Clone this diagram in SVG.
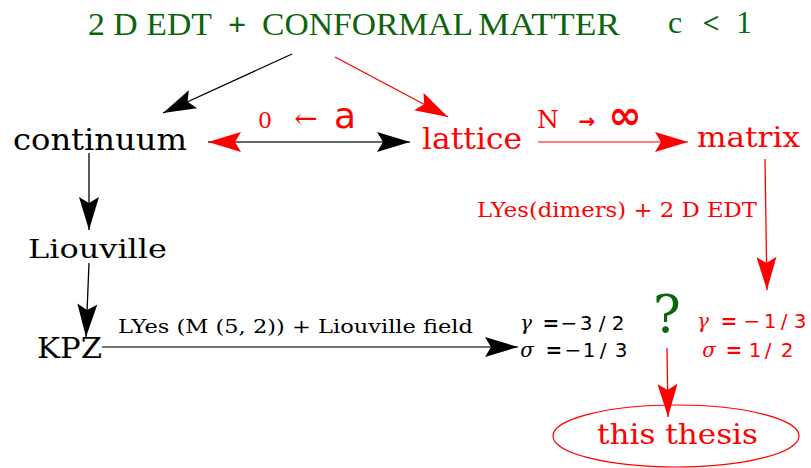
<svg xmlns="http://www.w3.org/2000/svg" width="811" height="468" viewBox="0 0 811 468">
<style>
.ser{font-family:"DejaVu Serif","Liberation Serif",serif;}
.tim{font-family:"Liberation Serif","DejaVu Serif",serif;}
.san{font-family:"DejaVu Sans","Liberation Sans",sans-serif;}
.grn{fill:#0d640d;}
.red{fill:#ff0000;}
.blk{fill:#000000;}
.mid{text-anchor:middle;}
.ital{font-style:italic;}
.ln{fill:none;stroke-width:1.3;}
</style>
<defs>
<marker id="hb" viewBox="-34 -11 35 22" refX="0" refY="0" markerWidth="35" markerHeight="22" markerUnits="userSpaceOnUse" orient="auto">
<path d="M0,0 L-33,-10 L-27,0 L-33,10 Z" fill="#000"/>
</marker>
<marker id="hr" viewBox="-34 -11 35 22" refX="0" refY="0" markerWidth="35" markerHeight="22" markerUnits="userSpaceOnUse" orient="auto">
<path d="M0,0 L-33,-10 L-27,0 L-33,10 Z" fill="#ff0000"/>
</marker>
<marker id="hrs" viewBox="-34 -11 35 22" refX="0" refY="0" markerWidth="35" markerHeight="22" markerUnits="userSpaceOnUse" orient="auto-start-reverse">
<path d="M0,0 L-33,-10 L-27,0 L-33,10 Z" fill="#ff0000"/>
</marker>
</defs>
<rect width="811" height="468" fill="#ffffff"/>

<g id="title">
<text class="tim grn" x="88" y="35" font-size="32" textLength="124" lengthAdjust="spacingAndGlyphs">2 D EDT</text>
<text class="tim grn mid" x="237" y="35" font-size="32" font-weight="bold">+</text>
<text class="tim grn" x="262" y="35" font-size="32" textLength="211" lengthAdjust="spacingAndGlyphs">CONFORMAL</text>
<text class="tim grn" x="478" y="35" font-size="32" textLength="142" lengthAdjust="spacingAndGlyphs">MATTER</text>
<text class="tim grn mid" x="675" y="33" font-size="32">c</text>
<text class="tim grn mid" x="711" y="33" font-size="30" font-weight="bold">&lt;</text>
<text class="tim grn mid" x="744" y="33" font-size="31">1</text>
</g>

<g id="continuum"><text class="ser blk" x="13" y="150" font-size="29" textLength="174" lengthAdjust="spacingAndGlyphs">continuum</text></g>
<g id="lattice"><text class="ser red" x="422" y="149" font-size="29" textLength="100" lengthAdjust="spacingAndGlyphs">lattice</text></g>
<g id="matrix"><text class="ser red" x="697" y="147" font-size="28" textLength="103" lengthAdjust="spacingAndGlyphs">matrix</text></g>
<g id="liouville"><text class="ser blk" x="28" y="258" font-size="26" textLength="139" lengthAdjust="spacingAndGlyphs">Liouville</text></g>
<g id="kpz"><text class="ser blk" x="37" y="358" font-size="27" textLength="65" lengthAdjust="spacingAndGlyphs">KPZ</text></g>

<g id="exponents-left" font-size="20">
<text class="ser ital blk mid" x="526" y="330">γ</text>
<text class="san blk mid" x="551" y="330" font-weight="bold">=</text>
<text class="san blk mid" x="569" y="330">−</text>
<text class="san blk mid" x="586" y="330">3</text>
<text class="san blk mid" x="602" y="330">/</text>
<text class="san blk mid" x="618" y="330">2</text>
<text class="ser ital blk mid" x="527" y="357">σ</text>
<text class="san blk mid" x="554" y="357" font-weight="bold">=</text>
<text class="san blk mid" x="573" y="357">−</text>
<text class="san blk mid" x="589" y="357">1</text>
<text class="san blk mid" x="603" y="357">/</text>
<text class="san blk mid" x="621" y="357">3</text>
</g>

<g id="question"><text class="ser grn mid" x="667" y="332" font-size="52">?</text></g>

<g id="exponents-right" font-size="20">
<text class="ser ital red mid" x="703" y="328">γ</text>
<text class="san red mid" x="729" y="328" font-weight="bold">=</text>
<text class="san red mid" x="752" y="328">−</text>
<text class="san red mid" x="770" y="328">1</text>
<text class="san red mid" x="784" y="328">/</text>
<text class="san red mid" x="800" y="328">3</text>
<text class="ser ital red mid" x="709" y="357">σ</text>
<text class="san red mid" x="734" y="357" font-weight="bold">=</text>
<text class="san red mid" x="755" y="357">1</text>
<text class="san red mid" x="768" y="357">/</text>
<text class="san red mid" x="787" y="357">2</text>
</g>

<g id="this-thesis">
<ellipse cx="676" cy="436" rx="123" ry="31" fill="none" stroke="#ff0000" stroke-width="1.2"/>
<text class="ser red" x="597" y="444" font-size="28" textLength="161" lengthAdjust="spacingAndGlyphs">this thesis</text>
</g>

<g id="connectors">
<line class="ln" x1="292" y1="54" x2="163" y2="113" stroke="#000" marker-end="url(#hb)"/>
<line class="ln" x1="335" y1="57" x2="448" y2="117" stroke="#ff0000" marker-end="url(#hr)"/>
<line class="ln" x1="208" y1="142" x2="410" y2="142" stroke="#333" stroke-width="1.6" marker-start="url(#hrs)" marker-end="url(#hb)"/>
<line class="ln" x1="538" y1="142" x2="688" y2="142" stroke="#ff5555" stroke-width="1.8" marker-end="url(#hr)"/>
<line class="ln" x1="89" y1="153" x2="89" y2="230" stroke="#000" marker-end="url(#hb)"/>
<line class="ln" x1="89" y1="263" x2="86" y2="337" stroke="#000" marker-end="url(#hb)"/>
<line class="ln" x1="102" y1="347" x2="518" y2="347" stroke="#444" stroke-width="1.6" marker-end="url(#hb)"/>
<line class="ln" x1="765" y1="159" x2="767" y2="290" stroke="#ff0000" marker-end="url(#hr)"/>
<line class="ln" x1="667" y1="348" x2="668" y2="417" stroke="#ff0000" marker-end="url(#hr)"/>
</g>

<g id="connector-labels">
<text class="ser red mid" x="265" y="128" font-size="22">0</text>
<text class="ser red mid" x="306" y="128" font-size="28">←</text>
<text class="san red mid" x="345" y="128" font-size="36">a</text>
<text class="ser red mid" x="548" y="128" font-size="25">N</text>
<text class="san red mid" x="587" y="128" font-size="20" font-weight="bold">→</text>
<text class="san red mid" x="625" y="129" font-size="40" font-weight="bold">∞</text>
<text class="ser blk" x="118" y="333" font-size="18" textLength="355" lengthAdjust="spacingAndGlyphs">LYes (M (5,  2)) + Liouville field</text>
<text class="ser red" x="477" y="217" font-size="20" textLength="280" lengthAdjust="spacingAndGlyphs">LYes(dimers) + 2 D EDT</text>
</g>
</svg>
